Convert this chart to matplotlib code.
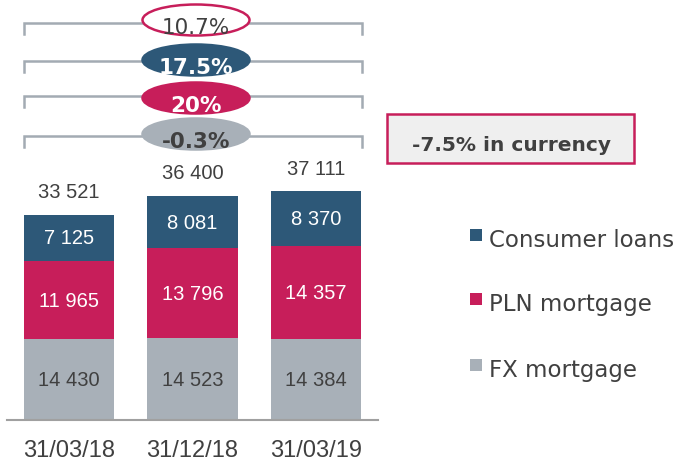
import matplotlib.pyplot as plt
from matplotlib.patches import Ellipse, Rectangle

dates = ["31/03/18", "31/12/18", "31/03/19"]
fx_mortgage = [14430, 14523, 14384]
pln_mortgage = [11965, 13796, 14357]
consumer_loans = [7125, 8081, 8370]
totals = [33521, 36400, 37111]

series = ["Consumer loans", "PLN mortgage", "FX mortgage"]
colors = {"Consumer loans": "#2D5878", "PLN mortgage": "#C71E5A", "FX mortgage": "#A8B0B8"}

# growth 31/03/18 -> 31/03/19
growth_labels = ["10.7%", "17.5%", "20%", "-0.3%"]
currency_note = "-7.5% in currency"

dark = "#404040"
W, H = 680, 464


def fmt(v):
    return f"{v:,}".replace(",", " ")


fig = plt.figure(figsize=(W / 100, H / 100), dpi=100)
ax = fig.add_axes([7 / W, 43 / H, 371 / W, 421 / H])

x = list(range(len(dates)))
bw = 0.73
b1 = ax.bar(x, fx_mortgage, bw, color=colors["FX mortgage"])
b2 = ax.bar(x, pln_mortgage, bw, bottom=fx_mortgage, color=colors["PLN mortgage"])
bottom2 = [a + b for a, b in zip(fx_mortgage, pln_mortgage)]
b3 = ax.bar(x, consumer_loans, bw, bottom=bottom2, color=colors["Consumer loans"])

# the original chart's value axis does not start at zero
ax.set_xlim(-0.5, 2.5)
ax.set_ylim(2000, 66600)

ax.bar_label(b1, labels=[fmt(v) for v in fx_mortgage], label_type="center",
             color=dark, fontsize=14.5, family="Liberation Sans")
ax.bar_label(b2, labels=[fmt(v) for v in pln_mortgage], label_type="center",
             color="white", fontsize=14.5, family="Liberation Sans")
ax.bar_label(b3, labels=[fmt(v) for v in consumer_loans], label_type="center",
             color="white", fontsize=14.5, family="Liberation Sans")
for i, t in enumerate(totals):
    ax.annotate(fmt(t), (x[i], t), xytext=(0, 16.5), textcoords="offset points",
                ha="center", va="center", color=dark, fontsize=14.5, family="Liberation Sans")

ax.set_xticks(x)
ax.set_xticklabels(dates, fontsize=17, color=dark, family="Liberation Sans")
ax.tick_params(axis="x", length=0, pad=14)
ax.set_yticks([])
for s in ["left", "right", "top"]:
    ax.spines[s].set_visible(False)
ax.spines["bottom"].set_color("#A0A0A0")
ax.spines["bottom"].set_linewidth(1.5)
ax.patch.set_alpha(0)

# overlay in pixel coordinates for brackets, ellipses, box and legend
ov = fig.add_axes([0, 0, 1, 1])
ov.set_xlim(0, W)
ov.set_ylim(H, 0)
ov.axis("off")
ov.patch.set_alpha(0)

line_y = [24, 62, 97, 137]
fills = ["white", colors["Consumer loans"], colors["PLN mortgage"], colors["FX mortgage"]]
edges = [colors["PLN mortgage"], colors["Consumer loans"], colors["PLN mortgage"], colors["FX mortgage"]]
text_cols = [dark, "white", "white", dark]
weights = ["normal", "bold", "bold", "bold"]
ell_y = [21, 61, 99, 135]
txt_y = [28, 68, 106, 142]
for i in range(4):
    y = line_y[i]
    ov.plot([24, 24, 362, 362], [y + 11, y, y, y + 11], color="#A3ABB3", lw=1.8,
            solid_joinstyle="miter", zorder=1)
    ov.add_patch(Ellipse((196, ell_y[i]), 107, 31, facecolor=fills[i], edgecolor=edges[i],
                         lw=1.8, zorder=2))
    ov.text(196, txt_y[i], growth_labels[i], ha="center", va="center", fontsize=15.5,
            color=text_cols[i], fontweight=weights[i], zorder=3)

ov.add_patch(Rectangle((387, 115), 247, 49, facecolor="#EFEFEF",
                       edgecolor=colors["PLN mortgage"], lw=1.8))
ov.text(511, 146, currency_note, ha="center", va="center", fontsize=14.5,
        fontweight="bold", color=dark)

leg_y = [241, 305, 371]
for name, y in zip(series, leg_y):
    ov.add_patch(Rectangle((470, y - 11), 12, 12, facecolor=colors[name], edgecolor="none"))
    ov.text(489, y, name, ha="left", va="center", fontsize=16.5, color=dark)

fig.savefig("out.png", dpi=100)
